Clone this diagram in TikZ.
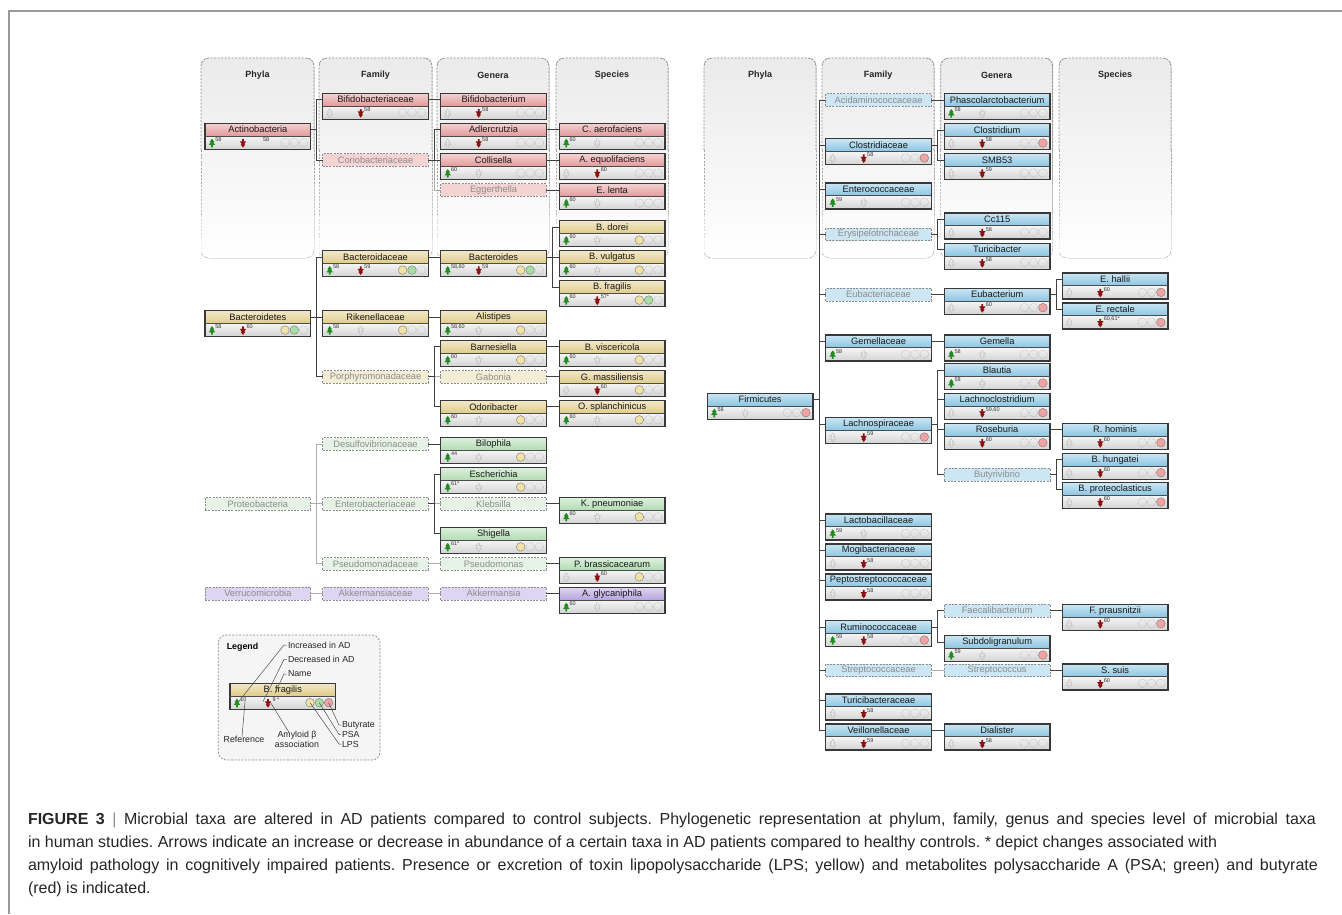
\documentclass[tikz,border=0pt]{standalone}
\usepackage{fontspec}
\setmainfont{Liberation Sans}
\newfontfamily\capfont{Liberation Sans}
\usetikzlibrary{calc}
\frenchspacing
\definecolor{actR}{HTML}{E39A9A}
\definecolor{actL}{HTML}{F5D3D3}
\definecolor{bacY}{HTML}{E0CC88}
\definecolor{bacL}{HTML}{F4EDD5}
\definecolor{proG}{HTML}{B2DCB2}
\definecolor{proL}{HTML}{E5F2E5}
\definecolor{verP}{HTML}{B7A3E0}
\definecolor{verL}{HTML}{DDD5F1}
\definecolor{firB}{HTML}{8CC6E3}
\definecolor{firL}{HTML}{CCE6F3}
\definecolor{upG}{HTML}{1E8C1E}
\definecolor{dnR}{HTML}{8B1010}
\definecolor{lpsC}{HTML}{F2E2A6}
\definecolor{psaC}{HTML}{A6DFA0}
\definecolor{butC}{HTML}{F2A2A2}
\tikzset{
  every node/.style={inner sep=0pt, outer sep=0pt},
  hdr/.style={minimum width=105.7pt, minimum height=12.7pt, font=\fontsize{9.3}{10}\selectfont, text=black!90},
  txlow/.style={minimum width=105.7pt, minimum height=13.3pt, top color=black!4, bottom color=black!17},
  dnode/.style={minimum width=105.7pt, minimum height=12.7pt, draw=black!45, dash pattern=on 2pt off 1.3pt, line width=0.7pt, font=\fontsize{9.3}{10}\selectfont, text=black!45},
  outl/.style={draw=black!78, line width=1.1pt},
  conn/.style={draw=black!75, line width=0.9pt},
  lconn/.style={draw=black!32, line width=0.8pt},
  refn/.style={font=\fontsize{5.5}{6}\selectfont, anchor=west, text=black!80},
  colhead/.style={font=\bfseries\fontsize{9}{10}\selectfont, text=black!85},
  pbord/.style={dash pattern=on 2pt off 1.5pt, line width=0.7pt},
  lgl/.style={draw=black!70, line width=0.5pt},
  lgtxt/.style={font=\fontsize{8.8}{10}\selectfont, text=black!85},
  uparrow/.pic={\path[pic actions] (0,-4.6) -- (2.4,-1.2) -- (1.1,-1.2) -- (3.2,1.6) -- (0.9,1.6) -- (0.9,4) -- (-0.9,4) -- (-0.9,1.6) -- (-3.2,1.6) -- (-1.1,-1.2) -- (-2.4,-1.2) -- cycle;},
  downarrow/.pic={\path[pic actions] (0,4.6) -- (2.4,1.2) -- (1.1,1.2) -- (3.2,-1.6) -- (0.9,-1.6) -- (0.9,-4) -- (-0.9,-4) -- (-0.9,-1.6) -- (-3.2,-1.6) -- (-1.1,1.2) -- (-2.4,1.2) -- cycle;},
}
% #1 down-number offset, #2 name, #3 left x, #4 top y, #5 colour, #6 label, #7 up ref, #8 down ref, #9 circles
\newcommand\tx[9][41.5]{%
  \node[hdr, top color=#5!45!white, bottom color=#5, anchor=north west] (#2) at (#3,#4) {#6};
  \node[txlow, anchor=north west] (#2-l) at (#2.south west) {};
  \draw[outl] (#2.north west) rectangle (#2-l.south east);
  \draw[draw=black!70, line width=0.6pt] (#2.south west) -- (#2.south east);
  \if\relax\detokenize{#7}\relax
    \pic[draw=black!28, line width=0.35pt] at ($(#2-l.west)+(7,0.6)$) {uparrow};
  \else
    \pic[fill=upG] at ($(#2-l.west)+(7,0.6)$) {uparrow};
    \node[refn] at ($(#2-l.west)+(10.3,-3)$) {#7};
  \fi
  \if\relax\detokenize{#8}\relax
    \pic[draw=black!28, line width=0.35pt] at ($(#2-l.west)+(38,0.4)$) {downarrow};
  \else
    \pic[fill=dnR] at ($(#2-l.west)+(38,0.4)$) {downarrow};
    \node[refn] at ($(#2-l.west)+(#1,-3)$) {#8};
  \fi
  \foreach \dx in {80,89.3,98.6} {\draw[black!30, line width=0.35pt, dash pattern=on 0.8pt off 0.6pt] ($(#2-l.west)+(\dx,0)$) circle (4.3pt);}
  \foreach \k in {#9} {%
    \ifnum\k=1 \fill[lpsC, draw=black!50, line width=0.4pt] ($(#2-l.west)+(80,0)$) circle (4.3pt);\fi
    \ifnum\k=2 \fill[psaC, draw=black!50, line width=0.4pt] ($(#2-l.west)+(89.3,0)$) circle (4.3pt);\fi
    \ifnum\k=3 \fill[butC, draw=black!50, line width=0.4pt] ($(#2-l.west)+(98.6,0)$) circle (4.3pt);\fi
  }%
}
\newcommand\dtx[5]{\node[dnode, fill=#4, anchor=north west] (#1) at (#2,#3) {#5};}
\newcommand\cn[2]{\draw[conn] (#1.east) -- ++(6,0) |- (#2.west);}
\newcommand\lcn[2]{\draw[lconn] (#1.east) -- ++(6,0) |- (#2.west);}
\newcommand\panel[3]{%
  \fill[top color=black!8, bottom color=white, rounded corners=8pt] (#1,258) rectangle (#2,58);
  \draw[pbord, black!45, rounded corners=8pt] (#1,150) -- (#1,58) -- (#2,58) -- (#2,150);
  \foreach \a/\b/\c in {150/185/35,185/215/25,215/240/15,240/258/7} {\draw[pbord, black!\c] (#1,\a) -- (#1,\b) (#2,\a) -- (#2,\b);}
  \node[colhead] at ({(#1+#2)/2},75) {#3};
}
\def\cxA{205}\def\cxB{322.7}\def\cxC{440.7}\def\cxD{559.3}
\def\cxE{707.3}\def\cxF{825.7}\def\cxG{944.3}\def\cxH{1062.3}
\begin{document}
\begin{tikzpicture}[x=1pt, y=-1pt]
\useasboundingbox (0,0) rectangle (1342,914);
\fill[white] (0,0) rectangle (1342,914);
\draw[black!40, line width=1.2pt] (9,914) -- (9,11) -- (1342,11);
% panels
\panel{201}{314}{Phyla}
\panel{319}{432}{Family}
\panel{437}{549}{Genera}
\panel{556}{668}{Species}
\panel{704}{816}{Phyla}
\panel{822}{934}{Family}
\panel{940.7}{1052.7}{Genera}
\panel{1059}{1171}{Species}
% ---------- Actinobacteria
\tx[58]{actino}{\cxA}{123.3}{actR}{Actinobacteria}{58}{58}{0}
\tx{bifidoF}{\cxB}{93.3}{actR}{Bifidobacteriaceae}{}{58}{0}
\dtx{corio}{\cxB}{153.7}{actL}{Coriobacteriaceae}
\tx{bifidoG}{\cxC}{93.3}{actR}{Bifidobacterium}{}{58}{0}
\tx{adler}{\cxC}{123.3}{actR}{Adlercrutzia}{}{58}{0}
\tx{colli}{\cxC}{153.7}{actR}{Collisella}{60}{}{0}
\dtx{egger}{\cxC}{183.7}{actL}{Eggerthella}
\tx{caero}{\cxD}{123.3}{actR}{C. aerofaciens}{60}{}{0}
\tx{aequo}{\cxD}{153.7}{actR}{A. equolifaciens}{}{60}{0}
\tx{elenta}{\cxD}{183.7}{actR}{E. lenta}{60}{}{0}
% ---------- Bacteroidetes
\tx{bactP}{\cxA}{310.7}{bacY}{Bacteroidetes}{58}{60}{1,2}
\tx{bactF}{\cxB}{250.7}{bacY}{Bacteroidaceae}{58}{59}{1,2}
\tx{riken}{\cxB}{310.7}{bacY}{Rikenellaceae}{58}{}{1}
\dtx{porph}{\cxB}{370.5}{bacL}{Porphyromonadaceae}
\tx{bactG}{\cxC}{250.7}{bacY}{Bacteroides}{58,60}{59}{1,2}
\tx{alist}{\cxC}{310.7}{bacY}{Alistipes}{58,60}{}{1}
\tx{barne}{\cxC}{340.5}{bacY}{Barnesiella}{60}{}{1}
\dtx{gabon}{\cxC}{370.5}{bacL}{Gabonia}
\tx{odori}{\cxC}{400.5}{bacY}{Odoribacter}{60}{}{1}
\tx{bdorei}{\cxD}{220.7}{bacY}{B. dorei}{60}{}{1}
\tx{bvulg}{\cxD}{250.7}{bacY}{B. vulgatus}{60}{}{1}
\tx{bfrag}{\cxD}{280.7}{bacY}{B. fragilis}{60}{57*}{1,2}
\tx{bvisc}{\cxD}{340.5}{bacY}{B. viscericola}{60}{}{1}
\tx{gmass}{\cxD}{370.5}{bacY}{G. massiliensis}{}{60}{1}
\tx{osplan}{\cxD}{400.5}{bacY}{O. splanchinicus}{60}{}{1}
% ---------- Proteobacteria
\dtx{proteo}{\cxA}{497.5}{proL}{Proteobacteria}
\dtx{desulf}{\cxB}{437.7}{proL}{Desulfovibrionaceae}
\dtx{entero}{\cxB}{497.5}{proL}{Enterobacteriaceae}
\dtx{pseudoF}{\cxB}{557.5}{proL}{Pseudomonadaceae}
\tx{biloph}{\cxC}{437.7}{proG}{Bilophila}{44}{}{1}
\tx{escher}{\cxC}{467.7}{proG}{Escherichia}{61*}{}{1}
\dtx{klebs}{\cxC}{497.5}{proL}{Klebsilla}
\tx{shig}{\cxC}{527.5}{proG}{Shigella}{61*}{}{1}
\dtx{pseudoG}{\cxC}{557.5}{proL}{Pseudomonas}
\tx{kpneu}{\cxD}{497.5}{proG}{K. pneumoniae}{60}{}{1}
\tx{pbrass}{\cxD}{557.5}{proG}{P. brassicacearum}{}{60}{1}
% ---------- Verrucomicrobia
\dtx{verru}{\cxA}{587.3}{verL}{Verrucomicrobia}
\dtx{akkF}{\cxB}{587.3}{verL}{Akkermansiaceae}
\dtx{akkG}{\cxC}{587.3}{verL}{Akkermansia}
\tx{aglyc}{\cxD}{587.3}{verP}{A. glycaniphila}{60}{}{0}
% ---------- Firmicutes
\tx{firm}{\cxE}{393.3}{firB}{Firmicutes}{58}{}{3}
\dtx{acid}{\cxF}{93.7}{firL}{Acidaminococcaceae}
\tx{clostF}{\cxF}{138.7}{firB}{Clostridiaceae}{}{58}{3}
\tx{enteroc}{\cxF}{183}{firB}{Enterococcaceae}{59}{}{0}
\dtx{erysip}{\cxF}{228}{firL}{Erysipelotrichaceae}
\dtx{eubF}{\cxF}{288.3}{firL}{Eubacteriaceae}
\tx{gemF}{\cxF}{335}{firB}{Gemellaceae}{58}{}{0}
\tx{lachno}{\cxF}{417.7}{firB}{Lachnospiraceae}{}{59}{3}
\tx{lacto}{\cxF}{514}{firB}{Lactobacillaceae}{59}{}{0}
\tx{mogi}{\cxF}{544}{firB}{Mogibacteriaceae}{}{58}{0}
\tx{pepto}{\cxF}{574}{firB}{Peptostreptococcaceae}{}{58}{0}
\tx{rumino}{\cxF}{620.7}{firB}{Ruminococcaceae}{59}{58}{3}
\dtx{streptF}{\cxF}{664}{firL}{Streptococcaceae}
\tx{turiF}{\cxF}{694}{firB}{Turicibacteraceae}{}{58}{0}
\tx{veill}{\cxF}{724}{firB}{Veillonellaceae}{}{59}{0}
\tx{phasc}{\cxG}{93.7}{firB}{Phascolarctobacterium}{58}{}{0}
\tx{clostG}{\cxG}{123.7}{firB}{Clostridium}{}{58}{3}
\tx{smb}{\cxG}{153.7}{firB}{SMB53}{}{59}{0}
\tx{cc}{\cxG}{213}{firB}{Cc115}{}{58}{0}
\tx{turiG}{\cxG}{243.3}{firB}{Turicibacter}{}{58}{0}
\tx{eubG}{\cxG}{288.3}{firB}{Eubacterium}{}{60}{3}
\tx{gemG}{\cxG}{335}{firB}{Gemella}{58}{}{0}
\tx{blaut}{\cxG}{363.7}{firB}{Blautia}{58}{}{3}
\tx{lachG}{\cxG}{393.3}{firB}{Lachnoclostridium}{}{59,60}{3}
\tx{roseb}{\cxG}{423.3}{firB}{Roseburia}{}{60}{3}
\dtx{butyr}{\cxG}{468.3}{firL}{Butyrivibrio}
\dtx{faeca}{\cxG}{604.3}{firL}{Faecalibacterium}
\tx{subdo}{\cxG}{635.7}{firB}{Subdoligranulum}{59}{}{3}
\dtx{streptG}{\cxG}{664}{firL}{Streptococcus}
\tx{dial}{\cxG}{724}{firB}{Dialister}{}{58}{0}
\tx{ehall}{\cxH}{273}{firB}{E. hallii}{}{60}{3}
\tx{erect}{\cxH}{303}{firB}{E. rectale}{}{60,61*}{3}
\tx{rhom}{\cxH}{423.3}{firB}{R. hominis}{}{60}{3}
\tx{bhung}{\cxH}{453.3}{firB}{B. hungatei}{}{60}{3}
\tx{bprot}{\cxH}{482.7}{firB}{B. proteoclasticus}{}{60}{3}
\tx{fprau}{\cxH}{604.3}{firB}{F. prausnitzii}{}{60}{3}
\tx{ssuis}{\cxH}{664}{firB}{S. suis}{}{60}{0}
% ---------- light connectors
\lcn{egger}{elenta}
\lcn{porph}{gabon}
\lcn{proteo}{desulf}\lcn{proteo}{entero}\lcn{proteo}{pseudoF}
\lcn{entero}{klebs}\lcn{pseudoF}{pseudoG}
\lcn{verru}{akkF}\lcn{akkF}{akkG}
\lcn{streptF}{streptG}
\lcn{corio}{egger}
% ---------- dark connectors
\cn{actino}{bifidoF}\cn{actino}{corio}\cn{bifidoF}{bifidoG}
\cn{corio}{adler}\cn{corio}{colli}
\cn{adler}{caero}\cn{colli}{aequo}\cn{egger}{elenta}
\cn{bactP}{bactF}\cn{bactP}{riken}\cn{bactP}{porph}
\cn{bactF}{bactG}\cn{bactG}{bdorei}\cn{bactG}{bvulg}\cn{bactG}{bfrag}
\cn{riken}{alist}\cn{porph}{barne}\cn{porph}{odori}
\cn{barne}{bvisc}\cn{gabon}{gmass}\cn{odori}{osplan}
\cn{desulf}{biloph}\cn{entero}{escher}\cn{entero}{shig}
\cn{klebs}{kpneu}\cn{pseudoG}{pbrass}\cn{akkG}{aglyc}
\foreach \f in {acid,clostF,enteroc,erysip,eubF,gemF,lachno,lacto,mogi,pepto,rumino,streptF,turiF,veill} {\cn{firm}{\f}}
\cn{acid}{phasc}\cn{clostF}{clostG}\cn{clostF}{smb}
\cn{erysip}{cc}\cn{erysip}{turiG}\cn{eubF}{eubG}
\cn{eubG}{ehall}\cn{eubG}{erect}\cn{gemF}{gemG}
\cn{lachno}{blaut}\cn{lachno}{lachG}\cn{lachno}{roseb}\cn{lachno}{butyr}
\cn{roseb}{rhom}\cn{butyr}{bhung}\cn{butyr}{bprot}
\cn{rumino}{faeca}\cn{rumino}{subdo}\cn{faeca}{fprau}
\cn{streptG}{ssuis}\cn{veill}{dial}
% ---------- legend
\draw[pbord, black!45, fill=black!4, rounded corners=8pt] (218.3,635) rectangle (380,760);
\node[font=\bfseries\fontsize{8.8}{10}\selectfont] (lgtitle) at (242.5,647.3) {Legend};
\tx[42.5]{lgd}{230}{683.3}{bacY}{B. fragilis}{10}{9 *}{1,2,3}
\node[lgtxt, anchor=west] (li) at (288,645) {Increased in AD};
\node[lgtxt, anchor=west] (ld) at (288,659.5) {Decreased in AD};
\node[lgtxt, anchor=west] (ln) at (288,674) {Name};
\node[lgtxt] (lr) at (244,739) {Reference};
\node[lgtxt, align=center] (la) at (297,739) {Amyloid β\\association};
\node[lgtxt, anchor=west] (lb) at (342,725) {Butyrate};
\node[lgtxt, anchor=west] (lp) at (342,734.5) {PSA};
\node[lgtxt, anchor=west] (ll) at (342,744) {LPS};
\draw[lgl] ($(lgd-l.west)+(9,-1.5)$) -- ($(li.west)+(-4,0)$) -- ($(li.west)+(-1.5,0)$);
\draw[lgl] ($(lgd-l.west)+(33,-1)$) -- ($(ld.west)+(-4,0)$) -- ($(ld.west)+(-1.5,0)$);
\draw[lgl] ($(lgd.south west)+(45,-3)$) -- ($(ln.west)+(-4,0)$) -- ($(ln.west)+(-1.5,0)$);
\draw[lgl] ($(lgd-l.west)+(15,-1)$) -- ($(lr.north)+(-2,1)$);
\draw[lgl] ($(lgd-l.west)+(40,-1)$) -- ($(la.north)+(-8,1.5)$);
\draw[lgl] ($(lgd-l.west)+(98.6,0)$) -- ($(lb.west)+(-3,0)$) -- ($(lb.west)+(-1,0)$);
\draw[lgl] ($(lgd-l.west)+(89.3,0)$) -- ($(lp.west)+(-3,0)$) -- ($(lp.west)+(-1,0)$);
\draw[lgl] ($(lgd-l.west)+(80,0)$) -- ($(ll.west)+(-3,0)$) -- ($(ll.west)+(-1,0)$);
% ---------- caption
\tikzset{capt/.style={anchor=base west, font=\capfont\fontsize{16}{18}\selectfont, text=black!85}}
\node[capt] (cap1) at (28,824) {\makebox[1288pt][s]{\textbf{FIGURE 3}\ \textcolor{black!45}{|} Microbial taxa are altered in AD patients compared to control subjects. Phylogenetic representation at phylum, family, genus and species level of microbial taxa}};
\node[capt] (cap2) at (28,847) {in human studies. Arrows indicate an increase or decrease in abundance of a certain taxa in AD patients compared to healthy controls. * depict changes associated with};
\node[capt] (cap3) at (28,870) {\makebox[1290pt][s]{amyloid pathology in cognitively impaired patients. Presence or excretion of toxin lipopolysaccharide (LPS; yellow) and metabolites polysaccharide A (PSA; green) and butyrate}};
\node[capt] (cap4) at (28,893) {(red) is indicated.};
\end{tikzpicture}
\end{document}
